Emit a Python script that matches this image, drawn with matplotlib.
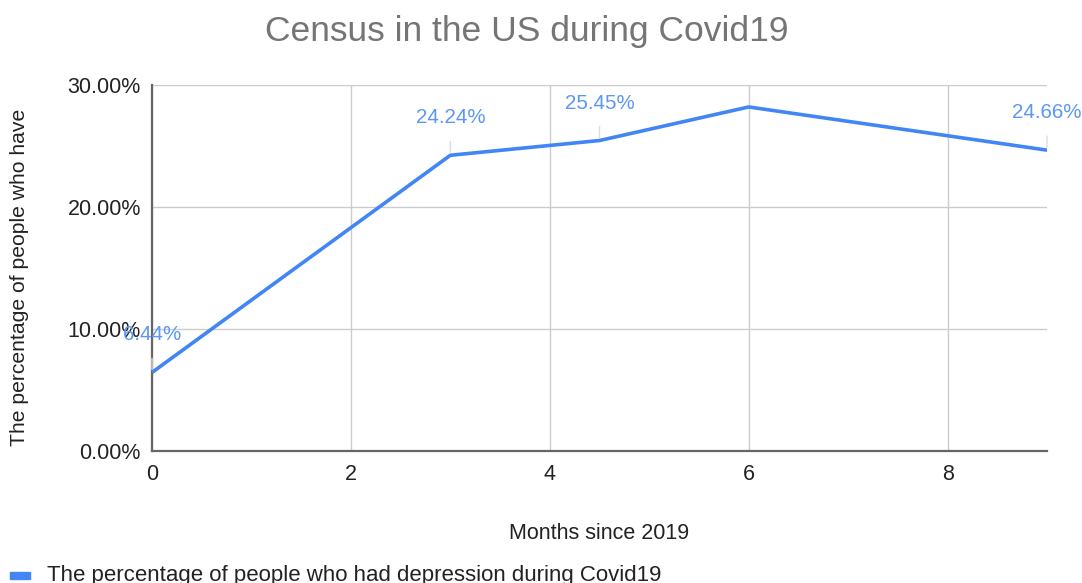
import matplotlib.pyplot as plt
import matplotlib.ticker as mtick

plt.rcParams['font.family'] = ['Liberation Sans', 'DejaVu Sans']

months = [0, 3, 4.5, 6, 9]
pct = [6.44, 24.24, 25.45, 28.2, 24.66]
labelled = [True, True, True, False, True]

xticks = [0, 2, 4, 6, 8]
yticks = [0, 10, 20, 30]

fig = plt.figure(figsize=(10.82, 5.83), dpi=100)
ax = fig.add_axes([0.1405, 0.2264, 0.8272, 0.6278])

ax.plot(months, pct, color='#4285F4', lw=2.6, solid_capstyle='butt', zorder=3)

for x, y, show in zip(months, pct, labelled):
    if not show:
        continue
    ax.annotate(f'{y:.2f}%', xy=(x, y), xytext=(0, 27), textcoords='offset points',
                ha='center', va='center', color='#5C97F5', fontsize=14.8,
                annotation_clip=False, zorder=4,
                arrowprops=dict(arrowstyle='-', color='#dddddd', lw=1,
                                shrinkA=8, shrinkB=2))

ax.set_xlim(0, 9)
ax.set_ylim(0, 30)
ax.set_xticks(xticks)
ax.set_yticks(yticks)
ax.yaxis.set_major_formatter(mtick.FuncFormatter(lambda v, p: f'{v:.2f}%'))
ax.tick_params(length=0, labelsize=15.5, colors='#222222', pad=8)
ax.tick_params(axis='x', pad=9)
ax.grid(True, color='#cccccc', lw=1)
ax.set_axisbelow(True)
for s in ['top', 'right']:
    ax.spines[s].set_visible(False)
for s in ['left', 'bottom']:
    ax.spines[s].set_color('#666666')
    ax.spines[s].set_linewidth(1.6)

fig.text(527 / 1082, 1 - 31 / 583, 'Census in the US during Covid19',
         fontsize=25.5, color='#757575', ha='center', va='center')
ax.set_xlabel('Months since 2019', fontsize=15.5, color='#222222', labelpad=28)
ax.set_ylabel('The percentage of people who have', fontsize=15.2, color='#222222')
ax.yaxis.set_label_coords(-0.138, 0.475)

fig.patches.append(plt.Rectangle((10 / 1082, 1 - 579 / 583), 20 / 1082, 7 / 583,
                                 transform=fig.transFigure, color='#4285F4'))
fig.text(47 / 1082, 1 - 575 / 583, 'The percentage of people who had depression during Covid19',
         fontsize=16, color='#222222', va='center')

fig.savefig('out.png', dpi=100)
